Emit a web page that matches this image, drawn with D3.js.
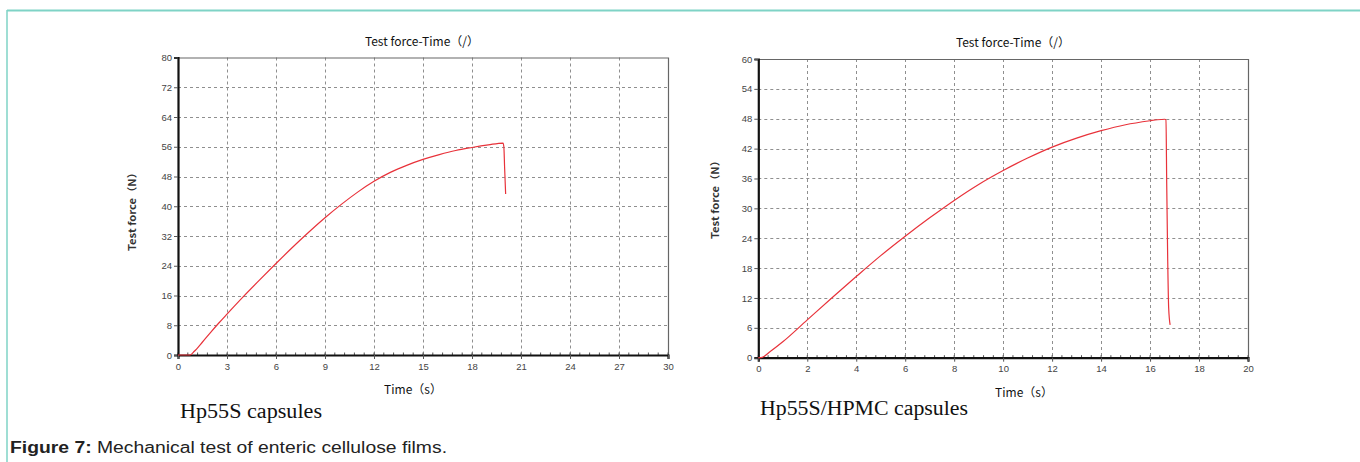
<!DOCTYPE html>
<html><head><meta charset="utf-8">
<script src="https://cdn.jsdelivr.net/npm/d3@7"></script>
<style>body{margin:0;background:#fff;}svg{display:block;}</style>
</head><body>
<svg id="c" width="1360" height="462"></svg>
<script>
// ---- data ----
const chartTitle = "Test force-Time（/）";
const yLabel = "Test force（N）";
const xLabel = "Time（s）";
const subtitles = ["Hp55S capsules", "Hp55S/HPMC capsules"];
const caption = ["Figure 7:", " Mechanical test of enteric cellulose films."];

const leftXTicks = [0,3,6,9,12,15,18,21,24,27,30];
const leftYTicks = [0,8,16,24,32,40,48,56,64,72,80];
const leftTime  = [0,0.73,1,1.5,2,2.5,3,4,5,6,7,8,9,10,11,12,13,14,15,16,17,18,19,19.9,19.95,20,20.06];
const leftForce = [0,0,1.0,3.5,6.1,8.6,11.0,15.7,20.2,24.6,28.9,33.0,36.9,40.5,43.8,46.7,49.1,51.0,52.6,53.9,55.0,55.8,56.5,57,56,50,43.3];

const rightXTicks = [0,2,4,6,8,10,12,14,16,18,20];
const rightYTicks = [0,6,12,18,24,30,36,42,48,54,60];
const rightTime  = [0,0.1,0.5,1,2,3,4,5,6,7,8,9,10,11,12,13,14,15,16,16.3,16.6,16.65,16.68,16.72,16.76,16.82];
const rightForce = [0,0,1.3,3.2,7.6,12,16.3,20.5,24.4,28.1,31.6,34.8,37.6,40.1,42.3,44.1,45.6,46.8,47.6,47.8,47.9,47.8,35,20,10,6.6];

// ---- layout ----
const svg = d3.select("#c");
svg.append("line").attr("x1",7).attr("x2",1360).attr("y1",10.5).attr("y2",10.5).attr("stroke","#7fd3c6").attr("stroke-width",2);
svg.append("line").attr("x1",7).attr("x2",7).attr("y1",10).attr("y2",462).attr("stroke","#7fd3c6").attr("stroke-width",1.5);

function panel(o){
  const g = svg.append("g");
  const x = d3.scaleLinear().domain([o.xTicks[0], o.xTicks[o.xTicks.length-1]]).range([o.x0, o.x1]);
  const y = d3.scaleLinear().domain([o.yTicks[0], o.yTicks[o.yTicks.length-1]]).range([o.y0, o.y1]);
  g.append("g").selectAll("line").data(o.xTicks.slice(1,-1)).join("line")
    .attr("x1",d=>Math.round(x(d))+0.5).attr("x2",d=>Math.round(x(d))+0.5).attr("y1",o.y1).attr("y2",o.y0)
    .attr("stroke","#8f8f8f").attr("stroke-width",1).attr("stroke-dasharray","3,3");
  g.append("g").selectAll("line").data(o.yTicks.slice(1,-1)).join("line")
    .attr("y1",d=>Math.round(y(d))+0.5).attr("y2",d=>Math.round(y(d))+0.5).attr("x1",o.x0).attr("x2",o.x1)
    .attr("stroke","#8f8f8f").attr("stroke-width",1).attr("stroke-dasharray","3,3");
  g.append("path").attr("d",`M${o.x0},${o.y1+0.5}H${o.x1+0.5}V${o.y0}`).attr("fill","none").attr("stroke","#666").attr("stroke-width",1.2);
  const step = o.xTicks[1]-o.xTicks[0];
  const minor = d3.range(o.xTicks[0], o.xTicks[o.xTicks.length-1]+1e-9, step/5);
  g.append("g").selectAll("line").data(minor).join("line")
    .attr("x1",d=>x(d)).attr("x2",d=>x(d)).attr("y1",o.y0).attr("y2",o.y0-2.5)
    .attr("stroke","#555").attr("stroke-width",1);
  const ya = d3.axisLeft(y).tickValues(o.yTicks).tickSize(4).tickPadding(2);
  const xa = d3.axisBottom(x).tickValues(o.xTicks).tickSize(4).tickPadding(4);
  const gy = g.append("g").attr("transform",`translate(${o.x0},0)`).call(ya);
  const gx = g.append("g").attr("transform",`translate(0,${o.y0})`).call(xa);
  [gy,gx].forEach(a=>{
    a.select(".domain").attr("stroke","#111").attr("stroke-width",2.2);
    a.selectAll(".tick line").attr("stroke","#555");
    a.selectAll("text").attr("fill","#444").attr("font-size",9.5).attr("font-family","Liberation Sans, Arial, sans-serif");
  });
  const line = d3.line().x((d,i)=>x(o.t[i])).y((d,i)=>y(o.f[i])).curve(d3.curveMonotoneX);
  g.append("path").datum(o.f).attr("d",line).attr("fill","none").attr("stroke","#e8323a").attr("stroke-width",1.2);
  g.append("text").attr("x",o.titleX).attr("y",o.y1-12).attr("text-anchor","middle")
    .attr("font-family","Noto Sans CJK SC, sans-serif").attr("font-size",12).attr("fill","#111").text(chartTitle);
  g.append("text").attr("transform",`translate(${o.yLabX},${o.yLabY}) rotate(-90)`).attr("text-anchor","middle")
    .attr("font-family","Noto Sans CJK SC, sans-serif").attr("font-size",10).attr("font-weight","bold").attr("fill","#333")
    .attr("textLength",84).attr("lengthAdjust","spacingAndGlyphs").text(yLabel);
  g.append("text").attr("x",o.xLabX).attr("y",o.y0+39).attr("text-anchor","middle")
    .attr("font-family","Noto Sans CJK SC, sans-serif").attr("font-size",12).attr("fill","#111").text(xLabel);
  g.append("text").attr("x",o.subX).attr("y",o.subY)
    .attr("font-family","Liberation Serif, Times New Roman, serif").attr("font-size",20).attr("fill","#111")
    .attr("textLength",o.subW).attr("lengthAdjust","spacingAndGlyphs").text(o.sub);
}

panel({x0:178,x1:668,y0:355,y1:57.5,xTicks:leftXTicks,yTicks:leftYTicks,t:leftTime,f:leftForce,
  titleX:422,yLabX:136,yLabY:209,xLabX:413,subX:180,subY:418,subW:142,sub:subtitles[0]});
panel({x0:758.3,x1:1248,y0:357.7,y1:59,xTicks:rightXTicks,yTicks:rightYTicks,t:rightTime,f:rightForce,
  titleX:1013,yLabX:719,yLabY:197,xLabX:1024,subX:760,subY:415,subW:208,sub:subtitles[1]});

const cap = svg.append("text").attr("x",10).attr("y",453).attr("font-family","Liberation Sans, Arial, sans-serif").attr("font-size",16).attr("fill","#222")
  .attr("textLength",437).attr("lengthAdjust","spacingAndGlyphs");
cap.append("tspan").attr("font-weight","bold").text(caption[0]);
cap.append("tspan").text(caption[1]);
</script>
</body></html>
